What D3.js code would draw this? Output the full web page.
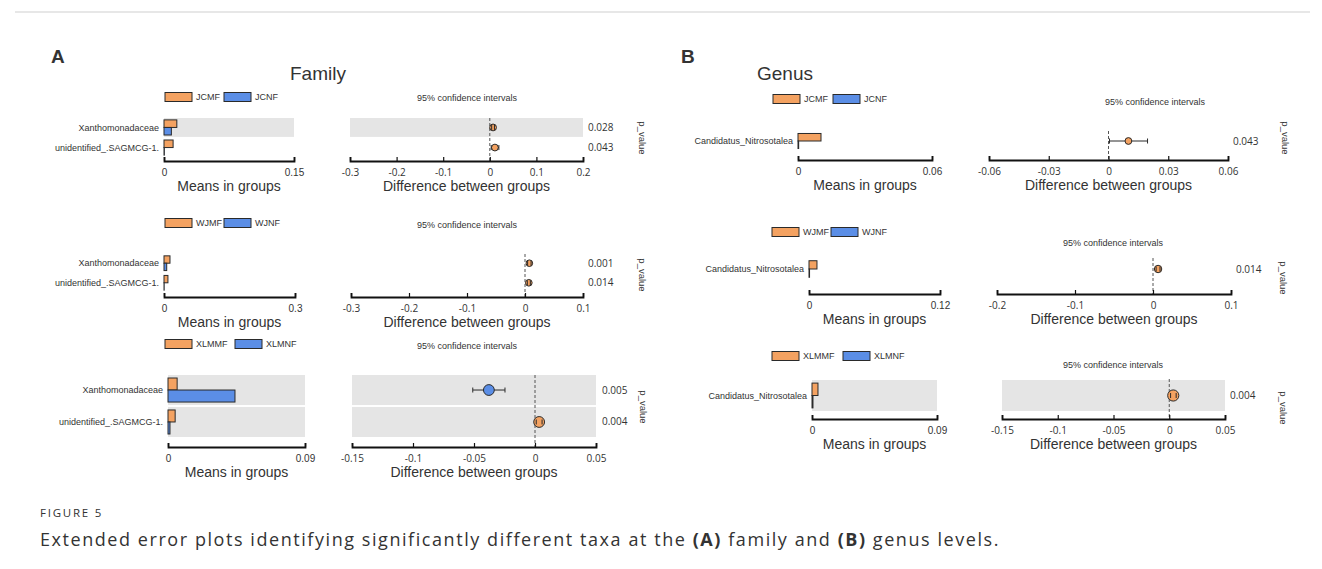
<!DOCTYPE html>
<html lang="en">
<head>
<meta charset="UTF-8">
<title>Figure 5</title>
<script src="https://d3js.org/d3.v7.min.js"></script>
<style>
  body { margin: 0; background: #fff; }
  svg text { font-family: "Liberation Sans", Arial, sans-serif; fill: #333; }
  .diff-axis text, .pval, .caption { font-family: "Open Sans", sans-serif; }
</style>
</head>
<body>
<svg id="fig"></svg>
<script>

// ---- data ----
const famTaxa = ['Xanthomonadaceae', 'unidentified_.SAGMCG-1.'];
const genTaxa = ['Candidatus_Nitrosotalea'];
const famGroups = [['JCMF', 'JCNF'], ['WJMF', 'WJNF'], ['XLMMF', 'XLMNF']];
const genGroups = [['JCMF', 'JCNF'], ['WJMF', 'WJNF'], ['XLMMF', 'XLMNF']];

// mean proportions: first group (M) and second group (N), one entry per taxon
const famMeanA = [[0.0148, 0.0105], [0.0137, 0.0090], [0.0060, 0.0047]];
const famMeanB = [[0.0085, 0.0004], [0.0062, 0.0004], [0.0440, 0.0013]];
const famDiff = [[0.0070, 0.0110], [0.0075, 0.0066], [-0.0378, 0.0034]];
const famCiLow = [[0.0040, 0.0030], [0.0045, 0.0040], [-0.0510, 0.0010]];
const famCiHigh = [[0.0100, 0.0195], [0.0105, 0.0092], [-0.0246, 0.0058]];
const famP = [['0.028', '0.043'], ['0.001', '0.014'], ['0.005', '0.004']];

const genMeanA = [[0.0103], [0.0073], [0.0043]];
const genMeanB = [[0.0003], [0.0005], [0.0007]];
const genDiff = [[0.0100], [0.0065], [0.0036]];
const genCiLow = [[0.0005], [0.0040], [0.0012]];
const genCiHigh = [[0.0196], [0.0090], [0.0062]];
const genP = [['0.043'], ['0.014'], ['0.004']];

// axis ticks
const famMeanTicks = [[0, 0.15], [0, 0.3], [0, 0.09]];
const famDiffTicks = [[-0.3, -0.2, -0.1, 0, 0.1, 0.2], [-0.3, -0.2, -0.1, 0, 0.1], [-0.15, -0.1, -0.05, 0, 0.05]];
const genMeanTicks = [[0, 0.06], [0, 0.12], [0, 0.09]];
const genDiffTicks = [[-0.06, -0.03, 0, 0.03, 0.06], [-0.2, -0.1, 0, 0.1], [-0.15, -0.1, -0.05, 0, 0.05]];

// ---- layout ----
const famLayout = [
  {legX: 165, legY: 97, leg2X: 224, rows: [118, 157], meansX: [164, 294], diffX: [350, 583], axisY: 161, ciY: 98, ciX: 467, pX: 588, pLabX: 642, pLabY: 138, shade: [true, false]},
  {legX: 165, legY: 223, leg2X: 224, rows: [254, 292], meansX: [164, 295], diffX: [351, 583], axisY: 297, ciY: 225, ciX: 467, pX: 588, pLabX: 642, pLabY: 275, shade: [false, false]},
  {legX: 165, legY: 344, leg2X: 235, rows: [375, 437], meansX: [168, 305], diffX: [352, 596], axisY: 447, ciY: 346, ciX: 467, pX: 602, pLabX: 643, pLabY: 407, shade: [true, true]}
];
const genLayout = [
  {legX: 773, legY: 99, leg2X: 833, rows: [131, 151], meansX: [798, 932], diffX: [989, 1228], axisY: 160, ciY: 102, ciX: 1155, pX: 1233, pLabX: 1285, pLabY: 138, shade: [false]},
  {legX: 772, legY: 232, leg2X: 831, rows: [258, 280], meansX: [809, 940], diffX: [997, 1231], axisY: 294, ciY: 243, ciX: 1113, pX: 1236, pLabX: 1283, pLabY: 278, shade: [false]},
  {legX: 772, legY: 356, leg2X: 843, rows: [379, 412], meansX: [812, 937], diffX: [1002, 1225], axisY: 419, ciY: 365, ciX: 1113, pX: 1230, pLabX: 1283, pLabY: 408, shade: [true]}
];

const colA = '#f4a261';
const colB = '#5b8ee6';
const edge = '#2a2a2a';
const shadeCol = '#e5e5e5';

const width = 1322, height = 569;
const svg = d3.select('#fig').attr('width', width).attr('height', height);

const fmt = function(d) { return String(+d.toFixed(3)); };

// frame line on top
svg.append('line')
  .attr('x1', 15).attr('x2', 1310).attr('y1', 12).attr('y2', 12)
  .attr('stroke', '#cfcfcf').attr('stroke-width', 1);

function drawPanel(taxa, groups, meanA, meanB, diff, lo, hi, pvals, meanTicks, diffTicks, L) {
  const g = svg.append('g');

  const y = d3.scaleBand().domain(taxa).range(L.rows).paddingInner(0.06);
  const xm = d3.scaleLinear().domain([0, meanTicks[meanTicks.length - 1]]).range(L.meansX);
  const xd = d3.scaleLinear().domain([diffTicks[0], diffTicks[diffTicks.length - 1]]).range(L.diffX);
  const bw = y.bandwidth();
  const pad = bw * 0.1;
  const half = (bw - 2 * pad) / 2;

  // legend
  const leg = [[groups[0], colA, L.legX], [groups[1], colB, L.leg2X]];
  leg.forEach(function(d) {
    g.append('rect').attr('x', d[2]).attr('y', L.legY - 4.5).attr('width', 27).attr('height', 9)
      .attr('fill', d[1]).attr('stroke', edge).attr('stroke-width', 1);
    g.append('text').attr('x', d[2] + 31).attr('y', L.legY).attr('dy', '0.35em')
      .attr('font-size', 9).text(d[0]);
  });

  // CI title
  g.append('text').attr('x', L.ciX).attr('y', L.ciY).attr('dy', '0.35em')
    .attr('text-anchor', 'middle').attr('font-size', 9).attr('fill', '#444')
    .text('95% confidence intervals');

  const rows = taxa.map(function(t, i) {
    return {taxon: t, a: meanA[i], b: meanB[i], diff: diff[i], lo: lo[i], hi: hi[i], p: pvals[i], shade: L.shade[i]};
  });

  // shading
  g.selectAll('.shade-m').data(rows.filter(function(d) { return d.shade; })).enter()
    .append('rect').attr('x', xm.range()[0]).attr('width', xm.range()[1] - xm.range()[0])
    .attr('y', function(d) { return y(d.taxon); }).attr('height', bw).attr('fill', shadeCol);
  g.selectAll('.shade-d').data(rows.filter(function(d) { return d.shade; })).enter()
    .append('rect').attr('x', xd.range()[0]).attr('width', xd.range()[1] - xd.range()[0])
    .attr('y', function(d) { return y(d.taxon); }).attr('height', bw).attr('fill', shadeCol);

  // taxon labels
  g.selectAll('.taxon').data(rows).enter().append('text')
    .attr('x', xm(0) - 5)
    .attr('y', function(d) { return y(d.taxon) + bw / 2; })
    .attr('dy', '0.35em').attr('text-anchor', 'end').attr('font-size', 9).attr('fill', '#444')
    .text(function(d) { return d.taxon; });

  // bars
  g.selectAll('.bar-a').data(rows).enter().append('rect')
    .attr('x', xm(0)).attr('y', function(d) { return y(d.taxon) + pad; })
    .attr('width', function(d) { return xm(d.a) - xm(0); }).attr('height', half)
    .attr('fill', colA).attr('stroke', edge).attr('stroke-width', 1);
  g.selectAll('.bar-b').data(rows).enter().append('rect')
    .attr('x', xm(0)).attr('y', function(d) { return y(d.taxon) + pad + half; })
    .attr('width', function(d) { return xm(d.b) - xm(0); }).attr('height', half)
    .attr('fill', colB).attr('stroke', edge).attr('stroke-width', 1);

  // zero line
  g.append('line').attr('x1', xd(0)).attr('x2', xd(0))
    .attr('y1', L.rows[0]).attr('y2', L.axisY)
    .attr('stroke', '#555').attr('stroke-width', 1).attr('stroke-dasharray', '3,2');

  // confidence intervals: whisker behind the point, caps on top
  const ci = g.selectAll('.ci').data(rows).enter().append('g')
    .attr('transform', function(d) { return 'translate(0,' + (y(d.taxon) + bw / 2) + ')'; });
  ci.append('line').attr('x1', function(d) { return xd(d.lo); }).attr('x2', function(d) { return xd(d.hi); })
    .attr('stroke', edge).attr('stroke-width', 1);
  ci.append('circle').attr('cx', function(d) { return xd(d.diff); }).attr('r', bw * 0.18)
    .attr('fill', function(d) { return d.diff > 0 ? colA : colB; })
    .attr('stroke', edge).attr('stroke-width', 1);
  ci.append('line').attr('x1', function(d) { return xd(d.lo); }).attr('x2', function(d) { return xd(d.lo); })
    .attr('y1', -2.5).attr('y2', 2.5).attr('stroke', edge);
  ci.append('line').attr('x1', function(d) { return xd(d.hi); }).attr('x2', function(d) { return xd(d.hi); })
    .attr('y1', -2.5).attr('y2', 2.5).attr('stroke', edge);

  // p-values
  g.selectAll('.pval').data(rows).enter().append('text').attr('class', 'pval')
    .attr('x', L.pX).attr('y', function(d) { return y(d.taxon) + bw / 2; })
    .attr('dy', '0.35em').attr('font-size', 10).text(function(d) { return d.p; });
  g.append('text').attr('transform', 'translate(' + L.pLabX + ',' + L.pLabY + ') rotate(90)')
    .attr('text-anchor', 'middle').attr('dy', '0.35em').attr('font-size', 9.5).attr('fill', '#444')
    .text('p_value');

  // axes
  const mAxis = g.append('g').attr('class', 'mean-axis').attr('transform', 'translate(0,' + L.axisY + ')')
    .call(d3.axisBottom(xm).tickValues(meanTicks).tickFormat(fmt)
      .tickSizeInner(-4).tickSizeOuter(-4).tickPadding(8));
  const dAxis = g.append('g').attr('class', 'diff-axis').attr('transform', 'translate(0,' + L.axisY + ')')
    .call(d3.axisBottom(xd).tickValues(diffTicks).tickFormat(fmt)
      .tickSizeInner(-4).tickSizeOuter(-4).tickPadding(8));
  [mAxis, dAxis].forEach(function(a) {
    a.select('.domain').attr('stroke', '#111').attr('stroke-width', 1.8);
    a.selectAll('.tick line').attr('stroke', '#111').attr('stroke-width', 1.2);
    a.selectAll('.tick text').attr('font-size', 10).attr('fill', '#444');
    a.attr('font-family', null);
  });

  g.append('text').attr('x', (L.meansX[0] + L.meansX[1]) / 2).attr('y', L.axisY + 30)
    .attr('text-anchor', 'middle').attr('font-size', 14).attr('fill', '#222').text('Means in groups');
  g.append('text').attr('x', (L.diffX[0] + L.diffX[1]) / 2).attr('y', L.axisY + 30)
    .attr('text-anchor', 'middle').attr('font-size', 14).attr('fill', '#222').text('Difference between groups');
}

famLayout.forEach(function(L, i) {
  drawPanel(famTaxa, famGroups[i], famMeanA[i], famMeanB[i], famDiff[i], famCiLow[i], famCiHigh[i],
    famP[i], famMeanTicks[i], famDiffTicks[i], L);
});
genLayout.forEach(function(L, i) {
  drawPanel(genTaxa, genGroups[i], genMeanA[i], genMeanB[i], genDiff[i], genCiLow[i], genCiHigh[i],
    genP[i], genMeanTicks[i], genDiffTicks[i], L);
});

// panel letters and titles
svg.append('text').attr('x', 51).attr('y', 63).attr('font-size', 19).attr('font-weight', 'bold').attr('fill', '#111').text('A');
svg.append('text').attr('x', 681).attr('y', 63).attr('font-size', 19).attr('font-weight', 'bold').attr('fill', '#111').text('B');
svg.append('text').attr('x', 318).attr('y', 80).attr('text-anchor', 'middle').attr('font-size', 19).attr('fill', '#111').text('Family');
svg.append('text').attr('x', 785).attr('y', 80).attr('text-anchor', 'middle').attr('font-size', 19).attr('fill', '#111').text('Genus');

// caption, spread to the printed width
function spread(sel, target) {
  const n = sel.text().length;
  const len = sel.node().getComputedTextLength();
  sel.attr('letter-spacing', Math.max(0, (target - len) / n));
}
const fig = svg.append('text').attr('class', 'caption').attr('x', 40).attr('y', 517)
  .attr('font-size', 11.5).attr('fill', '#777').text('FIGURE 5');
spread(fig, 63);
const cap = svg.append('text').attr('class', 'caption').attr('x', 40).attr('y', 546)
  .attr('font-size', 18).attr('fill', '#555');
cap.append('tspan').text('Extended error plots identifying significantly different taxa at the ');
cap.append('tspan').attr('font-weight', 'bold').text('(A)');
cap.append('tspan').text(' family and ');
cap.append('tspan').attr('font-weight', 'bold').text('(B)');
cap.append('tspan').text(' genus levels.');
spread(cap, 960);

</script>
</body>
</html>
